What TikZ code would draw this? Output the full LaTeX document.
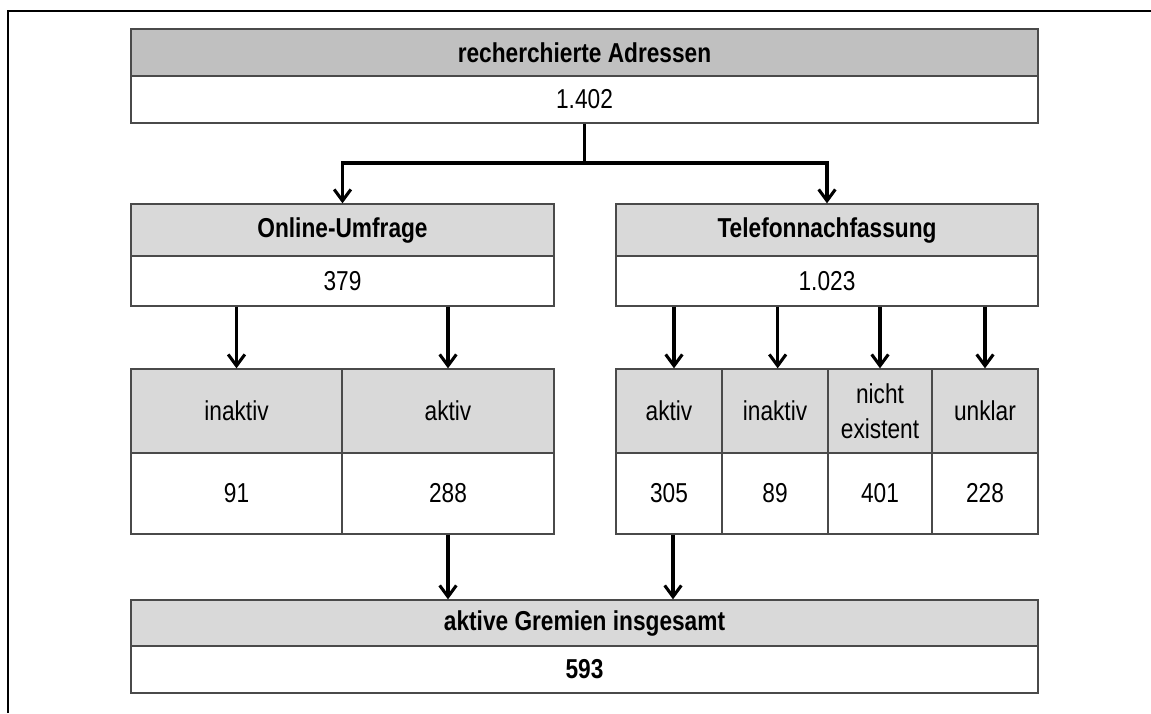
\documentclass[tikz,border=0pt]{standalone}
\usepackage{fontspec}
\setmainfont{Liberation Sans}[FakeStretch=0.83]
\usetikzlibrary{arrows.meta}
\definecolor{hdark}{HTML}{C0C0C0}
\definecolor{hlight}{HTML}{D9D9D9}
\definecolor{edgec}{HTML}{4A4A4A}
\tikzset{
  sz/.style 2 args={minimum width=#1*0.75pt, minimum height=#2*0.75pt},
  cell/.style={draw=edgec, line width=1pt, inner sep=0pt, align=center,
    font=\fontsize{20.5}{26}\selectfont},
  hdr/.style={cell, fill=hlight, font=\fontsize{20.5}{26}\selectfont\bfseries},
  hdrtop/.style={hdr, fill=hdark},
  val/.style={cell, fill=white},
  arr/.style={line width=2.3pt, -{Straight Barb[length=8.5pt,width=12.5pt]}},
}
\begin{document}
\begin{tikzpicture}[x=0.75pt,y=-0.75pt]
\useasboundingbox (0,0) rectangle (1151,713);
% frame
\draw[line width=1.5pt] (8,713) -- (8,11) -- (1151,11);
% top box
\node[hdrtop, sz={907}{47}] (toph) at (584.5,52.5) {recherchierte Adressen};
\node[val, sz={907}{47}] (topv) at (584.5,99.5) {1.402};
% online
\node[hdr, sz={423}{52}] (onh) at (342.5,230) {Online-Umfrage};
\node[val, sz={423}{50}] (onv) at (342.5,281) {379};
% telefon
\node[hdr, sz={422}{52}] (teh) at (827,230) {Telefonnachfassung};
\node[val, sz={422}{50}] (tev) at (827,281) {1.023};
% left table
\node[cell, fill=hlight, sz={211}{84}] (l1h) at (236.5,411) {inaktiv};
\node[cell, fill=hlight, sz={212}{84}] (l2h) at (448,411) {aktiv};
\node[val, sz={211}{81}] (l1v) at (236.5,493.5) {91};
\node[val, sz={212}{81}] (l2v) at (448,493.5) {288};
% right table
\node[cell, fill=hlight, sz={106}{84}] (r1h) at (669,411) {aktiv};
\node[cell, fill=hlight, sz={106}{84}] (r2h) at (775,411) {inaktiv};
\node[cell, fill=hlight, sz={104}{84}] (r3h) at (880,411) {nicht\\existent};
\node[cell, fill=hlight, sz={106}{84}] (r4h) at (985,411) {unklar};
\node[val, sz={106}{81}] (r1v) at (669,493.5) {305};
\node[val, sz={106}{81}] (r2v) at (775,493.5) {89};
\node[val, sz={104}{81}] (r3v) at (880,493.5) {401};
\node[val, sz={106}{81}] (r4v) at (985,493.5) {228};
% bottom box
\node[hdr, sz={907}{46}] (both) at (584.5,623) {aktive Gremien insgesamt};
\node[val, sz={907}{47}, font=\fontsize{20.5}{26}\selectfont\bfseries] (botv) at (584.5,669.5) {593};
% connectors
\coordinate (split) at (584.5,163);
\draw[line width=2.3pt] (topv.south) -- (split);
\draw[arr] (split) -| (onh.north);
\draw[arr] (split) -| (teh.north);
\draw[arr] (onv.south -| l1h.north) -- (l1h.north);
\draw[arr] (onv.south -| l2h.north) -- (l2h.north);
\draw[arr] ([xshift=3.75pt]tev.south -| r1h.north) -- ([xshift=3.75pt]r1h.north);
\draw[arr] ([xshift=2pt]tev.south -| r2h.north) -- ([xshift=2pt]r2h.north);
\draw[arr] (tev.south -| r3h.north) -- (r3h.north);
\draw[arr] (tev.south -| r4h.north) -- (r4h.north);
\draw[arr] (l2v.south) -- (both.north -| l2v.south);
\draw[arr] ([xshift=3pt]r1v.south) -- ([xshift=3pt]both.north -| r1v.south);
\end{tikzpicture}
\end{document}
